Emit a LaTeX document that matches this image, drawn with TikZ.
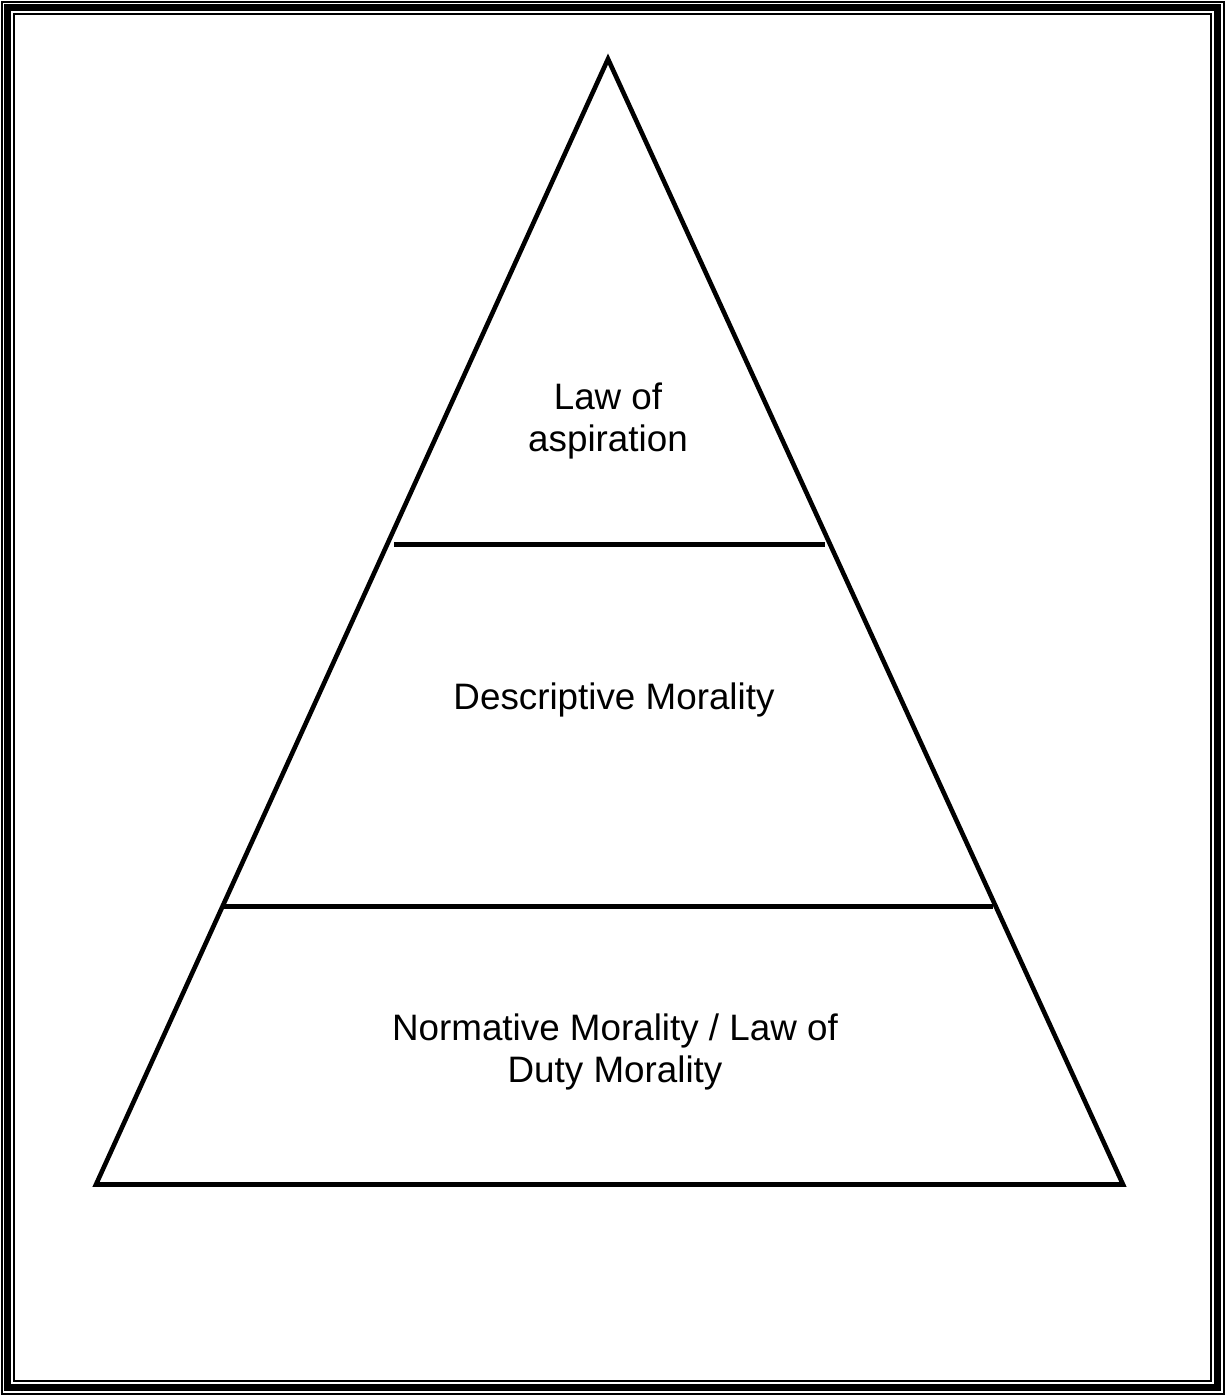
\documentclass[tikz,border=0pt]{standalone}
\usepackage{fontspec}
\setmainfont{Liberation Sans}
\usepackage{tikz}

\begin{document}
\begin{tikzpicture}[x=1pt,y=-1pt,
  lbl/.style={align=center,font=\fontsize{36.8}{42}\selectfont},
  edge/.style={line width=4.6pt}]
  \useasboundingbox (0,0) rectangle (1225,1395);
  % frame
  \draw[line width=2pt] (1.5,1.5) rectangle (1223.5,1393.5);
  \draw[line width=7pt] (7.5,7.5) rectangle (1217.5,1387.5);
  \draw[line width=2pt] (14,14) rectangle (1211,1381);

  \coordinate (top) at (608,59);
  \coordinate (bl) at (96,1184.5);
  \coordinate (br) at (1123,1184.5);
  \draw[edge,line join=miter] (top) -- (br) -- (bl) -- cycle;

  \coordinate (a1) at (394,544.5);
  \coordinate (a2) at (825,544.5);
  \coordinate (b1) at (223,906.5);
  \coordinate (b2) at (993,906.5);
  \draw[edge] (a1) -- (a2);
  \draw[edge] (b1) -- (b2);

  \node[lbl] (asp) at (608,421) {Law of\\aspiration};
  \node[lbl] (desc) at (614,700) {Descriptive Morality};
  \node[lbl] (norm) at (615,1052) {Normative Morality / Law of\\Duty Morality};
\end{tikzpicture}
\end{document}
